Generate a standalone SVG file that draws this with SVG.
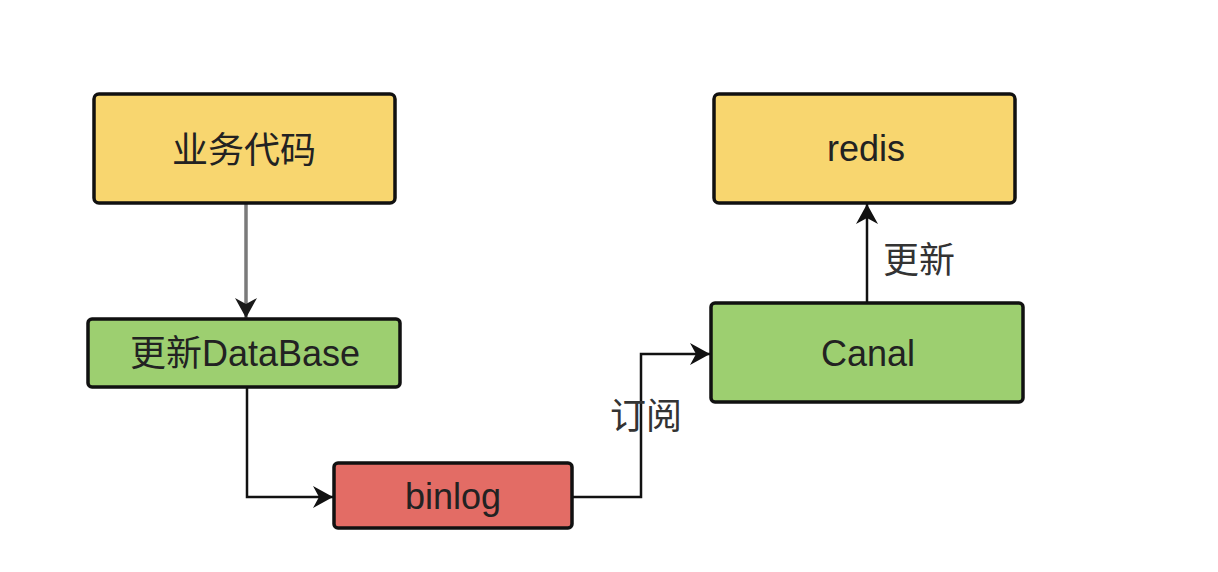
<svg xmlns="http://www.w3.org/2000/svg" width="1218" height="572" viewBox="0 0 1218 572">
<defs>
<marker id="arrBlack" markerWidth="30" markerHeight="30" refX="0" refY="0" orient="auto" markerUnits="userSpaceOnUse" style="overflow:visible">
<path d="M0,0 L-20,-11 L-14,0 L-20,11 Z" fill="#111"/>
</marker>
<marker id="arrGray" markerWidth="30" markerHeight="30" refX="0" refY="0" orient="auto" markerUnits="userSpaceOnUse" style="overflow:visible">
<path d="M0,0 L-20,-11 L-14,0 L-20,11 Z" fill="#1a1a1a"/>
</marker>
</defs>
<style>
.box{stroke:#111;stroke-width:3.5}
.yellow{fill:#F8D66F}
.green{fill:#9DCF70}
.red{fill:#E36C65}
.t{font-family:"Liberation Sans","Noto Sans CJK SC",sans-serif;font-size:36px;fill:#222;text-anchor:middle}
.lbl{font-family:"Liberation Sans","Noto Sans CJK SC",sans-serif;font-size:36px;fill:#333;text-anchor:middle}
.edge{fill:none;stroke:#111;stroke-width:2.5}
</style>
<rect width="1218" height="572" fill="#fff"/>
<g id="connectors">
<line x1="246" y1="204" x2="246" y2="318" stroke="#7a7a7a" stroke-width="3.5" marker-end="url(#arrGray)"/>
<polyline class="edge" points="247,388 247,497 333,497" marker-end="url(#arrBlack)"/>
<polyline class="edge" points="573,497 641,497 641,354 710,354" marker-end="url(#arrBlack)"/>
<line class="edge" x1="867" y1="302" x2="867" y2="204" marker-end="url(#arrBlack)"/>
<text class="lbl" x="646" y="429">订阅</text>
<text class="lbl" x="919" y="273">更新</text>
</g>
<g id="node-biz">
<rect class="box yellow" x="94" y="94" width="301" height="109" rx="5"/>
<text class="t" x="244" y="163">业务代码</text>
</g>
<g id="node-db">
<rect class="box green" x="88" y="319" width="312" height="68" rx="4"/>
<text class="t" x="245" y="366">更新DataBase</text>
</g>
<g id="node-binlog">
<rect class="box red" x="334" y="463" width="238" height="65" rx="4"/>
<text class="t" x="453" y="509">binlog</text>
</g>
<g id="node-canal">
<rect class="box green" x="711" y="303" width="312" height="99" rx="4"/>
<text class="t" x="868" y="366">Canal</text>
</g>
<g id="node-redis">
<rect class="box yellow" x="714" y="94" width="301" height="109" rx="5"/>
<text class="t" x="866" y="161">redis</text>
</g>
</svg>
